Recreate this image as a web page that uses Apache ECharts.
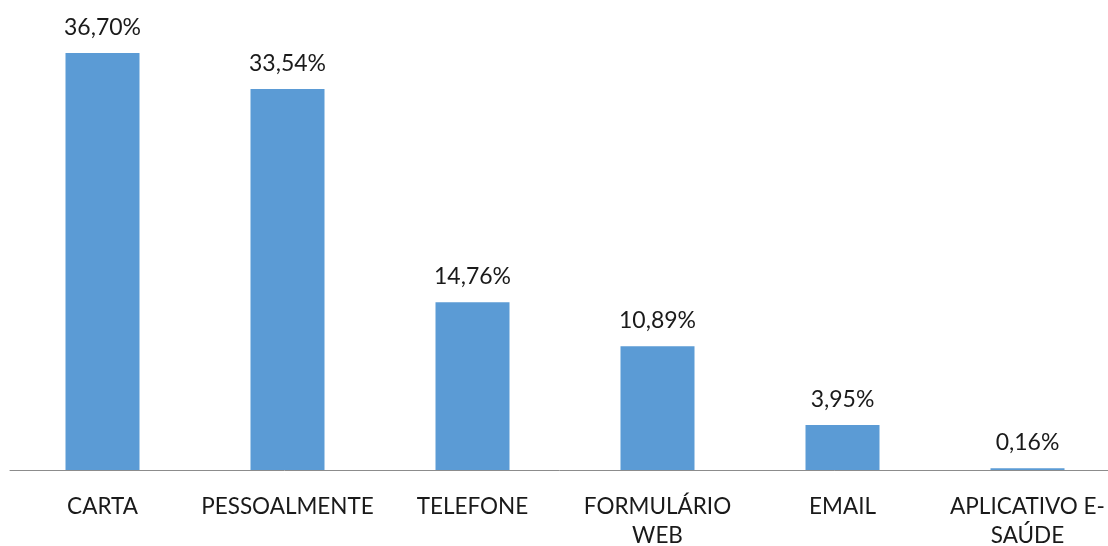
<!DOCTYPE html>
<html>
<head>
<meta charset="utf-8">
<script src="https://cdn.jsdelivr.net/npm/echarts@6/dist/echarts.min.js"></script>
<style>
  html, body { margin: 0; padding: 0; background: #fff; }
  #chart { width: 1108px; height: 546px; }
</style>
</head>
<body>
<div id="chart"></div>
<script>
const categories = ['CARTA', 'PESSOALMENTE', 'TELEFONE', 'FORMULÁRIO\nWEB', 'EMAIL', 'APLICATIVO E-\nSAÚDE'];
const shares = [36.70, 33.54, 14.76, 10.89, 3.95, 0.16];

const chart = echarts.init(document.getElementById('chart'));

function formatShare(value) {
  return value.toFixed(2).replace('.', ',') + '%';
}

chart.setOption({
  animation: false,
  backgroundColor: '#ffffff',
  textStyle: { fontFamily: 'Lato' },
  grid: { left: 10, top: 53, right: -12, bottom: 76, outerBoundsMode: 'none', containLabel: false },
  xAxis: {
    type: 'category',
    data: categories,
    axisLine: { lineStyle: { color: '#8c8c8c', width: 1 } },
    axisTick: { show: false },
    axisLabel: {
      color: '#1a1a1a',
      fontSize: 22.5,
      lineHeight: 29,
      margin: 22,
      interval: 0,
    },
  },
  yAxis: {
    type: 'value',
    min: 0,
    max: 36.7,
    show: false,
    splitLine: { show: false },
  },
  series: [
    {
      type: 'bar',
      data: shares,
      barWidth: 74,
      itemStyle: { color: '#5b9bd5' },
      label: {
        show: true,
        position: 'top',
        distance: 14,
        color: '#1a1a1a',
        fontSize: 23,
        formatter: (p) => formatShare(p.value),
      },
    },
  ],
});
</script>
</body>
</html>
